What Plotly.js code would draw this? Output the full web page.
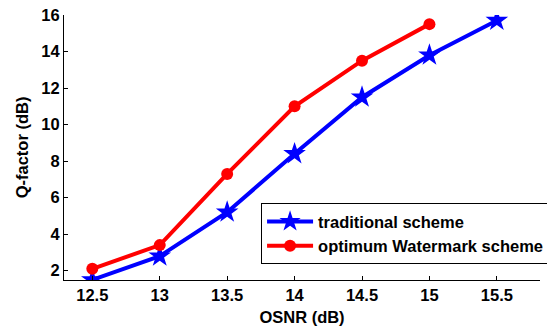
<!DOCTYPE html>
<html><head><meta charset="utf-8">
<script src="https://cdn.plot.ly/plotly-3.0.1.min.js"></script>
<style>html,body{margin:0;padding:0;background:#fff}#chart{width:547px;height:334px;overflow:hidden}</style>
</head><body><div id="chart"></div>
<script>
const osnrTrad = [12.5, 13, 13.5, 14, 14.5, 15, 15.5];
const qTrad = [1.5, 2.8, 5.2, 8.4, 11.5, 13.8, 15.7];
const osnrOpt = [12.5, 13, 13.5, 14, 14.5, 15];
const qOpt = [2.1, 3.4, 7.3, 11.0, 13.5, 15.5];
const xTicks = [12.5, 13, 13.5, 14, 14.5, 15, 15.5];
const yTicks = [2, 4, 6, 8, 10, 12, 14, 16];

const font = {family: 'Liberation Sans, Arial, sans-serif', size: 16, color: '#000'};
const traces = [
  {x: osnrTrad, y: qTrad, name: '<b>traditional scheme</b>', mode: 'lines+markers',
   line: {color: '#0000ff', width: 4}, marker: {symbol: 'star', size: 17, color: '#0000ff'}},
  {x: osnrOpt, y: qOpt, name: '<b>optimum Watermark scheme</b>', mode: 'lines+markers',
   line: {color: '#ff0000', width: 4}, marker: {symbol: 'circle', size: 12, color: '#ff0000'}}
];
const layout = {
  width: 547, height: 334,
  margin: {l: 64, r: 7, t: 15, b: 54, autoexpand: false},
  paper_bgcolor: '#fff', plot_bgcolor: '#fff',
  font: font,
  showlegend: true,
  legend: {x: 0.414, y: 0.29, xanchor: 'left', yanchor: 'top', bordercolor: '#000', borderwidth: 1,
           bgcolor: '#fff', font: {family: font.family, size: 16.5, color: '#000'}, tracegroupgap: 0, itemwidth: 46},
  xaxis: {range: [12.29, 15.82], tickvals: xTicks, ticktext: xTicks.map(v => '<b>' + v + '</b>'),
          showline: true, linecolor: '#000', linewidth: 1, ticks: 'inside', ticklen: 4, tickcolor: '#000',
          showgrid: false, zeroline: false, tickfont: {size: 16.5},
          title: {text: '<b>OSNR (dB)</b>', font: {size: 16.5}, standoff: 8}},
  yaxis: {range: [1.49, 16], tickvals: yTicks, ticktext: yTicks.map(v => '<b>' + v + '</b>'),
          showline: true, linecolor: '#000', linewidth: 1, ticks: 'inside', ticklen: 4, tickcolor: '#000',
          showgrid: false, zeroline: false, tickfont: {size: 16.5},
          title: {text: '<b>Q-factor (dB)</b>', font: {size: 16.5}, standoff: 8}}
};
Plotly.newPlot('chart', traces, layout, {displayModeBar: false, staticPlot: true});
</script></body></html>
